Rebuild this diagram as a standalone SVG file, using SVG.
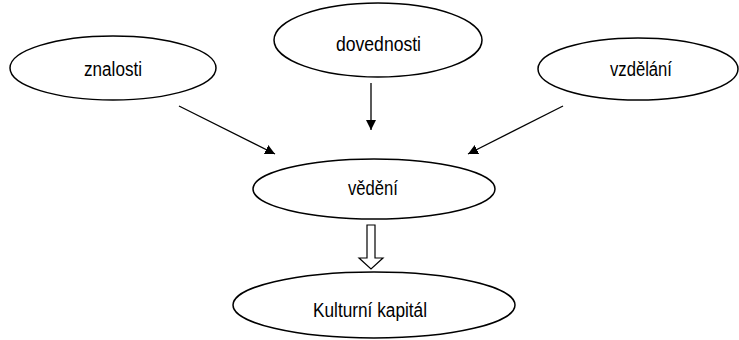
<svg xmlns="http://www.w3.org/2000/svg" width="739" height="340" viewBox="0 0 739 340">
<defs>
<style>
.n{fill:#fff;stroke:#000;stroke-width:1.5}
.t{font-family:"Liberation Sans",Arial,sans-serif;font-size:19.5px;fill:#000;text-anchor:middle}
.c{stroke:#000;stroke-width:1.3;fill:none}
</style>
<marker id="ah" viewBox="0 0 10 10" refX="10" refY="5" markerWidth="10" markerHeight="10" markerUnits="userSpaceOnUse" orient="auto">
<path d="M0,0 L10,5 L0,10 z" fill="#000"/>
</marker>
</defs>
<rect width="739" height="340" fill="#fff"/>
<g id="znalosti"><ellipse class="n" cx="113" cy="68" rx="103" ry="32"/><text class="t" x="113" y="76" textLength="58" lengthAdjust="spacingAndGlyphs">znalosti</text></g>
<g id="dovednosti"><ellipse class="n" cx="378" cy="40" rx="104" ry="37"/><text class="t" x="378.5" y="51" textLength="85" lengthAdjust="spacingAndGlyphs">dovednosti</text></g>
<g id="vzdelani"><ellipse class="n" cx="638" cy="69" rx="100" ry="31"/><text class="t" x="641" y="76" textLength="62" lengthAdjust="spacingAndGlyphs">vzdělání</text></g>
<g id="vedeni"><ellipse class="n" cx="374" cy="189" rx="121" ry="30"/><text class="t" x="373" y="195" textLength="50" lengthAdjust="spacingAndGlyphs">vědění</text></g>
<g id="kapital"><ellipse class="n" cx="374" cy="305" rx="141" ry="33"/><text class="t" x="370" y="317" textLength="114" lengthAdjust="spacingAndGlyphs">Kulturní kapitál</text></g>
<g id="connectors">
<line class="c" x1="179" y1="106" x2="275" y2="154" marker-end="url(#ah)"/>
<line class="c" x1="371" y1="83" x2="371" y2="130" marker-end="url(#ah)"/>
<line class="c" x1="563" y1="106" x2="468" y2="154" marker-end="url(#ah)"/>
<path d="M367,225 L375,225 L375,258 L383,258 L371,269 L359,258 L367,258 Z" fill="#fff" stroke="#000" stroke-width="1.2"/>
</g>
</svg>
